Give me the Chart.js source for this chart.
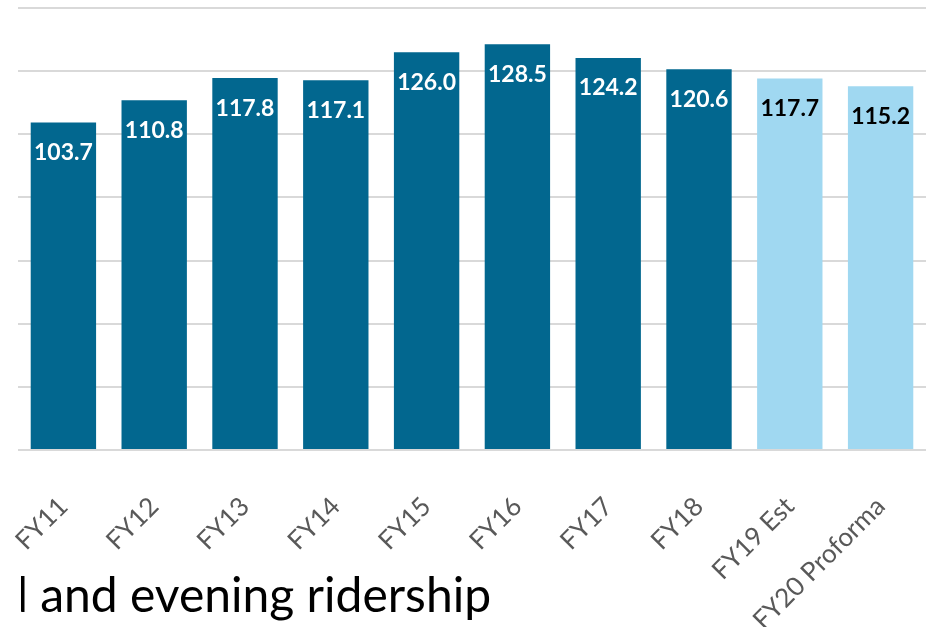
<!DOCTYPE html>
<html>
<head>
<meta charset="utf-8">
<script src="https://cdn.jsdelivr.net/npm/chart.js@4.4.1/dist/chart.umd.min.js"></script>
<style>
  html, body { margin: 0; padding: 0; background: #fff; }
  #wrap { position: relative; width: 928px; height: 627px; overflow: hidden; }
  #c { position: absolute; left: 0; top: 0; }
  #clip { position: absolute; left: 21px; top: 540px; width: 700px; height: 87px; overflow: hidden; }
  #caption { position: absolute; left: -20px; top: 30px; font-family: Lato, "Open Sans", sans-serif; font-size: 48px; color: #000; white-space: nowrap; line-height: 48px; }
</style>
</head>
<body>
<div id="wrap">
  <canvas id="c" width="928" height="627"></canvas>
  <div id="clip"><div id="caption">d and evening ridership</div></div>
</div>
<script>
const categories = ["FY11", "FY12", "FY13", "FY14", "FY15", "FY16", "FY17", "FY18", "FY19 Est", "FY20 Proforma"];
const values = [103.7, 110.8, 117.8, 117.1, 126.0, 128.5, 124.2, 120.6, 117.7, 115.2];
const isProjection = [false, false, false, false, false, false, false, false, true, true];

const DARK = "#02678f";
const LIGHT = "#a0d8f1";

const labelPlugin = {
  id: "barLabels",
  afterDatasetsDraw(chart) {
    const ctx = chart.ctx;
    const meta = chart.getDatasetMeta(0);
    ctx.save();
    ctx.font = "bold 23px Lato, 'Open Sans', sans-serif";
    ctx.textAlign = "center";
    ctx.textBaseline = "middle";
    meta.data.forEach((bar, i) => {
      ctx.fillStyle = isProjection[i] ? "#000000" : "#ffffff";
      ctx.fillText(values[i].toFixed(1), bar.x, bar.y + 30);
    });
    ctx.restore();
  }
};

new Chart(document.getElementById("c"), {
  type: "bar",
  data: {
    labels: categories,
    datasets: [{
      data: values,
      backgroundColor: isProjection.map(p => p ? LIGHT : DARK),
      borderWidth: 0,
      categoryPercentage: 1.0,
      barPercentage: 0.72
    }]
  },
  options: {
    responsive: false,
    animation: false,
    events: [],
    layout: { padding: { left: 0, right: 2, top: 8, bottom: 0 } },
    plugins: { legend: { display: false }, tooltip: { enabled: false } },
    scales: {
      x: {
        grid: { display: false },
        border: { display: false },
        ticks: {
          color: "#595959",
          font: { family: "Lato, 'Open Sans', sans-serif", size: 26 },
          minRotation: 45,
          maxRotation: 45,
          padding: 33,
          autoSkip: false
        },
        afterFit(scale) {
          scale.height = 177;
          scale.paddingLeft = 0;
          scale.paddingRight = 0;
        }
      },
      y: {
        min: 0,
        max: 140,
        ticks: { display: false, stepSize: 20 },
        border: { display: false },
        grid: { color: "#d9d9d9", lineWidth: 2, drawTicks: false },
        afterFit(scale) { scale.width = 18; }
      }
    }
  },
  plugins: [labelPlugin]
});
</script>
</body>
</html>
